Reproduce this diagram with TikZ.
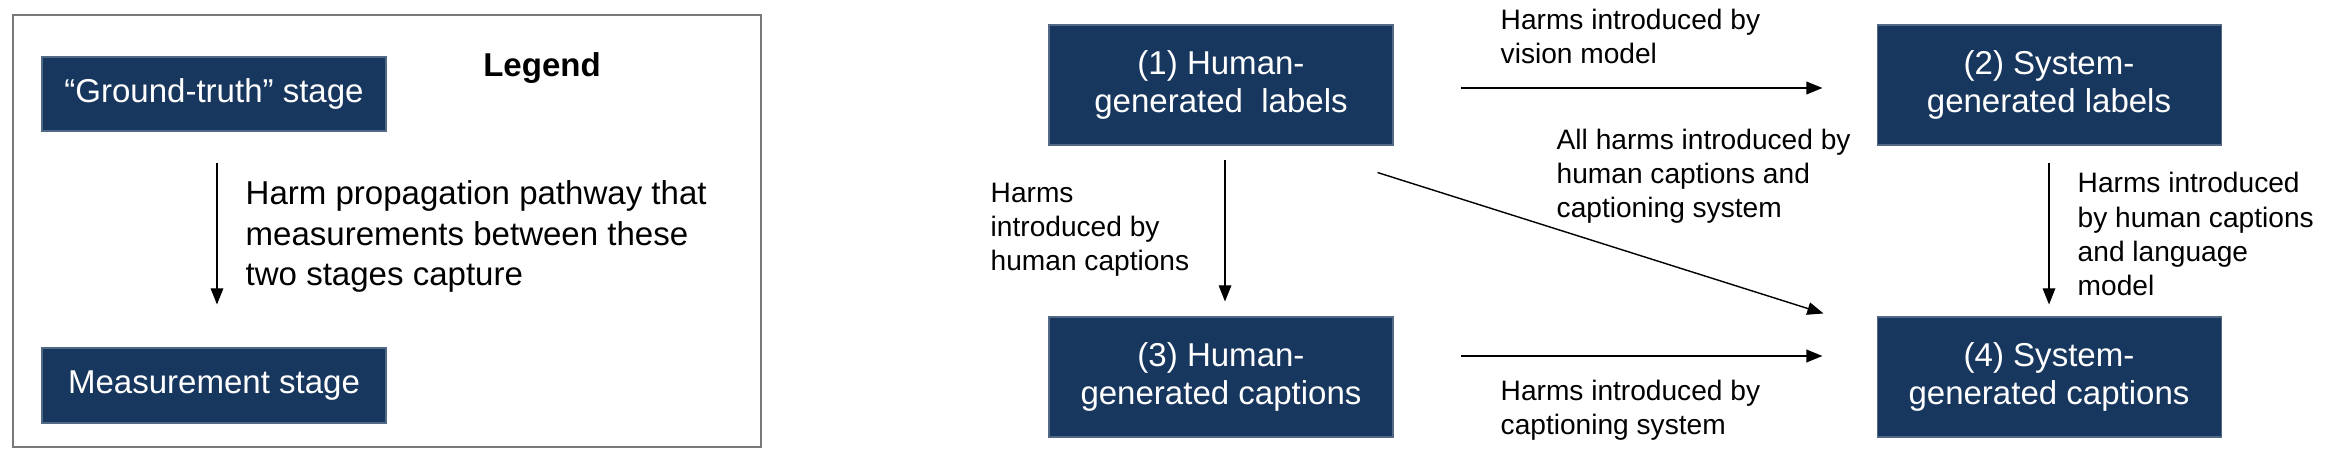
\documentclass[tikz,border=0pt]{standalone}
\usepackage{fontspec}
\setmainfont{Liberation Sans}
\usepackage{xcolor}
\usepackage{tikz}
\usetikzlibrary{
  arrows.meta,
  positioning
}
\definecolor{StageNavy}{RGB}{24, 55, 94}
\definecolor{FrameGray}{RGB}{120, 120, 120}
\tikzset{
    stagebox/.style={rectangle, fill=StageNavy, draw=StageNavy!75!white, line width=0.3pt, text=white, align=center, inner sep=0pt, minimum width=3.44cm, font=\fontsize{9.4}{10.8}\selectfont},
    harmnote/.style={anchor=west, inner sep=0pt, align=left, font=\fontsize{8}{9.7}\selectfont},
    harmpath/.style={-{Triangle[length=4.6pt, width=3.6pt]}, line width=0.35pt}
}

\begin{document}
\begin{tikzpicture}
            \useasboundingbox (0,0) rectangle (23.30,4.56);
            \draw[FrameGray, line width=0.6pt] (0.13,0.09) rectangle (7.61,4.41);
            \node[stagebox, minimum height=0.74cm] (truth) at (2.14,3.62) {“Ground-truth” stage};
            \node[stagebox, minimum height=0.75cm] (measure) at (2.14,0.705) {Measurement stage};
            \node[font=\fontsize{9.4}{11}\selectfont\bfseries] (legendtitle) at (5.42,3.88) {Legend};
            \draw[harmpath, shorten <=0.31cm, shorten >=0.43cm] ([xshift=0.03cm]truth.south) -- ([xshift=0.03cm]measure.north);
            \node[harmnote, font=\fontsize{9.4}{11.4}\selectfont] (legendtext) at (2.45,2.195) {Harm propagation pathway that\\measurements between these\\two stages capture};

            \node[stagebox, minimum height=1.20cm] (hlabels) at (12.21,3.71) {(1) Human-\\generated\ \ labels};
            \node[stagebox, minimum height=1.20cm] (slabels) at (20.49,3.71) {(2) System-\\generated labels};
            \node[stagebox, minimum height=1.20cm] (hcaps) at (12.21,0.79) {(3) Human-\\generated captions};
            \node[stagebox, minimum height=1.20cm] (scaps) at (20.49,0.79) {(4) System-\\generated captions};

            \draw[harmpath, line width=0.55pt, shorten <=0.67cm, shorten >=0.54cm] ([yshift=-0.03cm]hlabels.east) -- ([yshift=-0.03cm]slabels.west);
            \draw[harmpath, line width=0.55pt, shorten <=0.67cm, shorten >=0.54cm] ([yshift=0.21cm]hcaps.east) -- ([yshift=0.21cm]scaps.west);
            \draw[harmpath, shorten <=0.14cm, shorten >=0.15cm] ([xshift=0.04cm]hlabels.south) -- ([xshift=0.04cm]hcaps.north);
            \draw[harmpath, shorten <=0.17cm, shorten >=0.12cm] (slabels.south) -- (scaps.north);
            \draw[harmpath, line width=0.4pt] ([shift={(-0.16,-0.27)}]hlabels.south east) -- ([shift={(-0.53,0.03)}]scaps.north west);

            \node[harmnote] (visionnote) at (15.00,4.195) {Harms introduced by\\vision model};
            \node[harmnote] (captionnote) at (15.00,0.46) {Harms introduced by\\captioning system};
            \node[harmnote] (allnote) at (15.56,2.80) {All harms introduced by\\human captions and\\captioning system};
            \node[harmnote] (languagenote) at (20.77,2.22) {Harms introduced\\by human captions\\and language\\model};
            \node[harmnote] (humannote) at (9.90,2.26) {Harms\\introduced by\\human captions};
        \end{tikzpicture}
\end{document}
